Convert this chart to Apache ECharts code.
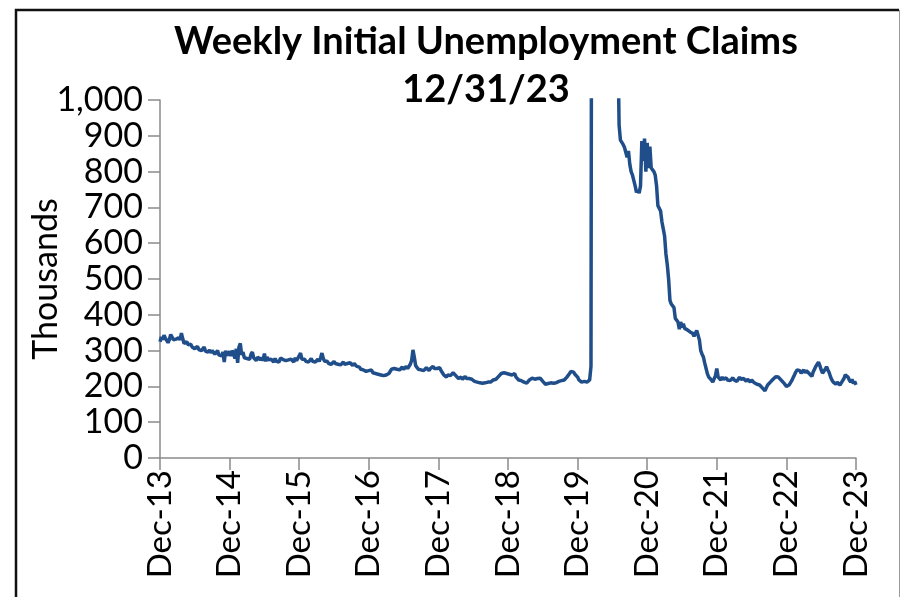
<!DOCTYPE html>
<html>
<head>
<meta charset="utf-8">
<script src="https://cdn.jsdelivr.net/npm/echarts@6/dist/echarts.min.js"></script>
<style>
  html, body { margin: 0; padding: 0; background: #fff; }
  #chart { width: 901px; height: 597px; }
</style>
</head>
<body>
<div id="chart"></div>
<script>
// Weekly initial unemployment claims, thousands, one value per week
// starting the last week of December 2013.
const claimsDec13 = [
  325, 338, 330, 343, 335, 340, 322, 331, 345, 338,
  330, 325, 332, 328, 336, 330, 349, 333, 320, 318,
  325, 316, 312, 318, 310, 314, 305, 308, 312, 303,
  306, 300, 304, 310, 298, 302, 296, 302, 294, 300,
  297, 290, 295, 300, 288, 293, 285, 296, 268, 300, 286, 292
];
const claimsDec14 = [
  298, 285, 300, 292, 278, 305, 266, 310, 320, 288, 296, 280,
  285, 278, 282, 276, 290, 296, 280, 276, 272, 282, 278, 274,
  280, 272, 292, 270, 282, 274, 270, 276, 272, 268, 278, 270,
  274, 268, 279, 282, 275, 270, 272, 268, 274, 270, 276, 272, 268, 280, 272, 275
];
const claimsDec15 = [
  285, 293, 276, 272, 276, 270, 274, 268, 272, 278, 270, 274,
  268, 272, 276, 270, 280, 293, 278, 270, 266, 270, 264, 268,
  262, 266, 270, 264, 268, 262, 266, 260, 264, 268, 262, 258,
  264, 260, 266, 262, 258, 264, 260, 256, 252, 254, 248, 250, 246, 248, 242, 246
];
const claimsDec16 = [
  244, 240, 246, 238, 242, 236, 240, 234, 238, 232, 236, 230,
  226, 232, 228, 236, 240, 248, 252, 250, 254, 248, 252, 246,
  250, 254, 248, 252, 256, 250, 254, 262, 272, 302, 282, 258,
  254, 248, 252, 246, 250, 244, 246, 252, 248, 244, 250, 254, 256, 250, 246, 250
];
const claimsDec17 = [
  248, 252, 244, 238, 232, 228, 226, 232, 236, 230, 234, 238,
  237, 230, 226, 222, 223, 226, 220, 224, 228, 222, 226, 222,
  226, 220, 216, 214, 218, 212, 214, 210, 212, 209, 206, 210,
  208, 212, 214, 212, 216, 218, 222, 220, 224, 228, 232, 236, 234, 238, 240, 236
];
const claimsDec18 = [
  240, 234, 238, 232, 228, 236, 226, 222, 218, 220, 216, 218,
  212, 210, 209, 214, 218, 222, 223, 226, 220, 224, 222, 226,
  223, 218, 214, 210, 206, 204, 208, 206, 210, 212, 209, 214,
  210, 212, 214, 212, 216, 220, 218, 222, 226, 230, 236, 242, 246, 240, 234, 232
];
const claimsDec19 = [
  226, 218, 214, 212, 216, 214, 218, 212, 216, 218, 256,
  2920, 6137, 6615, 5237, 4442, 3867, 3176, 2687, 2446, 2137, 1897, 1566,
  1542, 1482, 1453, 1413, 1310, 1422, 1434, 1190,
  930, 888, 883, 876, 868, 872, 840, 858, 820, 800, 790, 785,
  760, 742, 748, 740, 760, 885, 830, 892, 800
];
const claimsDec20 = [
  880, 810, 870, 810, 805, 800, 790, 760, 705, 700, 690, 660,
  640, 620, 570, 540, 500, 440, 430, 425, 420, 390, 385, 380,
  360, 380, 365, 375, 362, 366, 358, 362, 352, 356, 348, 340,
  335, 356, 358, 330, 300, 290, 282, 265, 250, 235, 226, 222, 218, 212, 209, 230
];
const claimsDec21 = [
  250, 226, 222, 218, 226, 220, 215, 224, 218, 222, 216, 220,
  224, 218, 222, 214, 218, 226, 220, 216, 222, 218, 214, 220,
  216, 212, 218, 214, 210, 212, 206, 210, 204, 200, 196, 192,
  188, 196, 204, 209, 212, 216, 220, 224, 227, 222, 226, 223, 218, 214, 210, 205
];
const claimsDec22 = [
  200, 199, 204, 210, 216, 224, 232, 240, 246, 251, 244, 237,
  242, 246, 238, 244, 240, 236, 232, 228, 240, 248, 256, 262,
  268, 258, 246, 237, 242, 248, 255, 246, 238, 226, 218, 212,
  209, 206, 212, 208, 204, 210, 213, 222, 232, 237, 226, 218, 212, 220, 208, 214, 204
];

// Tick labels for the date axis, one per year (every 52 weeks)
const yearLabels = ['Dec-13', 'Dec-14', 'Dec-15', 'Dec-16', 'Dec-17', 'Dec-18',
                    'Dec-19', 'Dec-20', 'Dec-21', 'Dec-22', 'Dec-23'];
const weeksPerYear = 52;

const claims = [].concat(claimsDec13, claimsDec14, claimsDec15, claimsDec16,
  claimsDec17, claimsDec18, claimsDec19, claimsDec20, claimsDec21, claimsDec22);
const seriesData = claims.map((v, week) => [week, v]);

const chart = echarts.init(document.getElementById('chart'), null, { renderer: 'canvas' });
const FONT = 'Lato, "Open Sans", sans-serif';
const AXIS_GRAY = '#8a8a8a';

chart.setOption({
  backgroundColor: '#ffffff',
  animation: false,
  title: {
    text: 'Weekly Initial Unemployment Claims\n12/31/23',
    left: 481,
    top: 13,
    textAlign: 'center',
    textStyle: {
      fontFamily: FONT,
      fontWeight: 'bold',
      fontSize: 38,
      lineHeight: 48,
      color: '#000'
    }
  },
  grid: { left: 160, right: 45, top: 100, bottom: 139, containLabel: false },
  xAxis: {
    type: 'value',
    min: 0,
    max: weeksPerYear * (yearLabels.length - 1),
    interval: weeksPerYear,
    axisLine: { show: true, lineStyle: { color: AXIS_GRAY, width: 1.5 } },
    axisTick: { show: true, length: 12, lineStyle: { color: AXIS_GRAY, width: 1.5 } },
    splitLine: { show: false },
    axisLabel: {
      rotate: 90,
      margin: 12,
      fontFamily: FONT,
      fontSize: 33,
      color: '#000',
      formatter: (v) => yearLabels[Math.round(v / weeksPerYear)] || ''
    }
  },
  yAxis: {
    type: 'value',
    min: 0,
    max: 1000,
    interval: 100,
    name: 'Thousands',
    nameLocation: 'middle',
    nameGap: 97,
    nameMoveOverlap: false,
    nameTextStyle: { fontFamily: FONT, fontSize: 34, color: '#000' },
    axisLine: { show: true, lineStyle: { color: AXIS_GRAY, width: 1.5 } },
    axisTick: { show: true, length: 12, lineStyle: { color: AXIS_GRAY, width: 1.5 } },
    splitLine: { show: false },
    axisLabel: {
      margin: 17,
      fontFamily: FONT,
      fontSize: 34,
      color: '#000',
      formatter: (v) => v.toLocaleString('en-US')
    }
  },
  series: [{
    type: 'line',
    data: seriesData,
    showSymbol: false,
    clip: true,
    lineStyle: { color: '#1f4e8a', width: 3.5 },
    itemStyle: { color: '#1f4e8a' }
  }],
  graphic: [
    {
      type: 'polyline',
      silent: true,
      shape: { points: [[16, 600], [16, 10], [899, 10]] },
      style: { stroke: '#111', lineWidth: 2.5, fill: null }
    },
    {
      type: 'line',
      silent: true,
      shape: { x1: 899.5, y1: 10, x2: 899.5, y2: 600 },
      style: { stroke: '#9a9a9a', lineWidth: 1 }
    }
  ]
});
</script>
</body>
</html>
